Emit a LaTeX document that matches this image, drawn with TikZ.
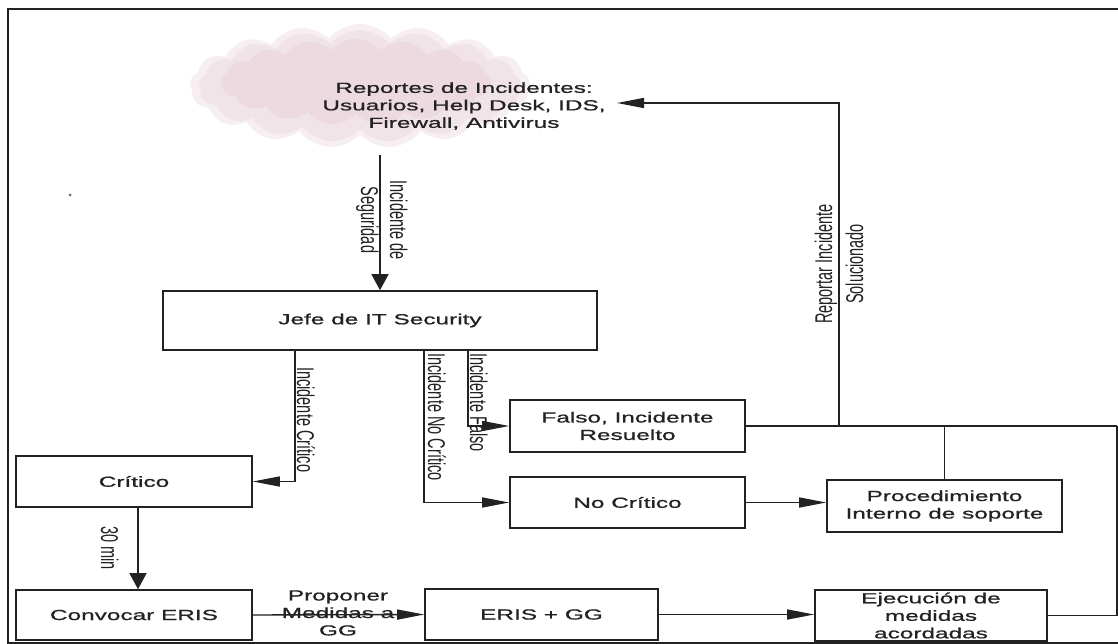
\documentclass[tikz,border=0pt]{standalone}
\usepackage{fontspec}
\usetikzlibrary{arrows.meta,shapes.symbols}
\newfontfamily\wfont[FakeStretch=1.67,FakeBold=0.9]{Liberation Sans}
\newfontfamily\nfont[FakeStretch=0.6]{Liberation Sans}
\definecolor{ink}{HTML}{222222}
\definecolor{cloudpink}{RGB}{238,222,228}
\definecolor{cloudpinkb}{RGB}{230,206,215}
\begin{document}
\begin{tikzpicture}[x=1pt,y=-1pt,
  every node/.style={inner sep=0pt, text=ink},
  box/.style={draw=ink, line width=1.6pt, rectangle, minimum height=51pt, font=\wfont\fontsize{14.6}{17.5}\selectfont, align=center},
  conn/.style={draw=ink, line width=1.4pt},
  htip/.style={conn, -{Triangle[length=27pt,width=10pt]}},
  vtip/.style={conn, -{Triangle[length=16pt,width=17pt]}},
  rlab/.style={font=\nfont\fontsize{24.2}{29}\selectfont, rotate=-90, align=center},
  llab/.style={font=\nfont\fontsize{24.2}{31}\selectfont, rotate=90, align=center},
  hlab/.style={font=\wfont\fontsize{14.6}{17.5}\selectfont, align=center},
  puff/.style={cloud, cloud puffs=17, cloud puff arc=100, aspect=2.7, fill=#1, draw=none}
]
\useasboundingbox (0,0) rectangle (1118,644);
\fill[white] (0,0) rectangle (1118,644);

% frame
\draw[ink, line width=1.2pt] (1118,9) -- (8,9) -- (8,643) -- (1118,643);
\fill[ink!70] (70,195) circle (1.5);

% cloud
\node[puff=cloudpink, opacity=0.5, minimum width=340pt, minimum height=124pt] (cloud) at (360,86) {};
\node[puff=cloudpink, opacity=0.6, minimum width=322pt, minimum height=112pt] (cloudmid) at (360,86) {};
\node[puff=cloudpinkb, opacity=0.45, minimum width=270pt, minimum height=86pt] (cloudin) at (356,82) {};
\node[hlab] (reportes) at (464,106) {Reportes de Incidentes:\\Usuarios, Help Desk, IDS,\\Firewall, Antivirus};

% boxes
\node[box, minimum width=434pt, minimum height=59pt] (jefe) at (380,320.5) {Jefe de IT Security};
\node[box, minimum width=236pt] (critico) at (134,481.5) {Crítico};
\node[box, minimum width=236pt, minimum height=50pt] (convocar) at (134,615) {Convocar ERIS};
\node[box, minimum width=235pt, minimum height=52pt] (falso) at (627.5,426) {Falso, Incidente\\Resuelto};
\node[box, minimum width=235pt] (nocrit) at (627.5,502.5) {No Crítico};
\node[box, minimum width=235pt, minimum height=52pt] (proc) at (944.5,506) {Procedimiento\\Interno de soporte};
\node[box, minimum width=233pt] (eris) at (541.5,614.5) {ERIS + GG};
\node[box, minimum width=232pt] (ejec) at (931,615.5) {Ejecución de\\medidas\\acordadas};

% coordinates
\coordinate (cb) at (380,155);
\coordinate (ct) at (617,103);
\coordinate (j1) at (295,350);
\coordinate (j2) at (424,350);
\coordinate (j3) at (468,350);
\coordinate (c1) at (138,507);
\coordinate (rr) at (1117,426);
\coordinate (rb) at (1117,615.5);
\coordinate (pj) at (944.5,426);
\coordinate (ru) at (839,426);
\coordinate (rt) at (839,103);

% connectors
\draw[vtip] (cb) -- (jefe.north);
\draw[htip] (j1) |- (critico.east);
\draw[htip] (j2) |- (nocrit.west);
\draw[htip] (j3) |- (falso.west);
\draw[vtip] (c1) -- (c1 |- convocar.north);
\draw[htip] (convocar.east) -- (eris.west);
\draw[htip] (eris.east) -- (eris.east -| ejec.west);
\draw[htip] (nocrit.east) -- (nocrit.east -| proc.west);
\draw[conn] (falso.east) -- (rr);
\draw[conn] (ejec.east) -- (rb) -- (rr);
\draw[conn] (proc.north) -- (pj);
\draw[htip] (ru) -- (rt) -- (ct);

% labels
\node[rlab] (lseg) at (382,220) {Incidente de\\Seguridad};
\node[rlab, anchor=base west] (lcrit) at (297,367) {Incidente Crítico};
\node[rlab, anchor=base west] (lnoc) at (428,353) {Incidente No Crítico};
\node[rlab, anchor=base west] (lfal) at (470,353) {Incidente Falso};
\node[rlab, anchor=base] (l30) at (101,548) {30 min};
\node[llab] (lrep) at (839,264) {Reportar Incidente\\Solucionado};
\node[hlab] (lprop) at (338,613) {Proponer\\Medidas a\\GG};
\end{tikzpicture}
\end{document}
